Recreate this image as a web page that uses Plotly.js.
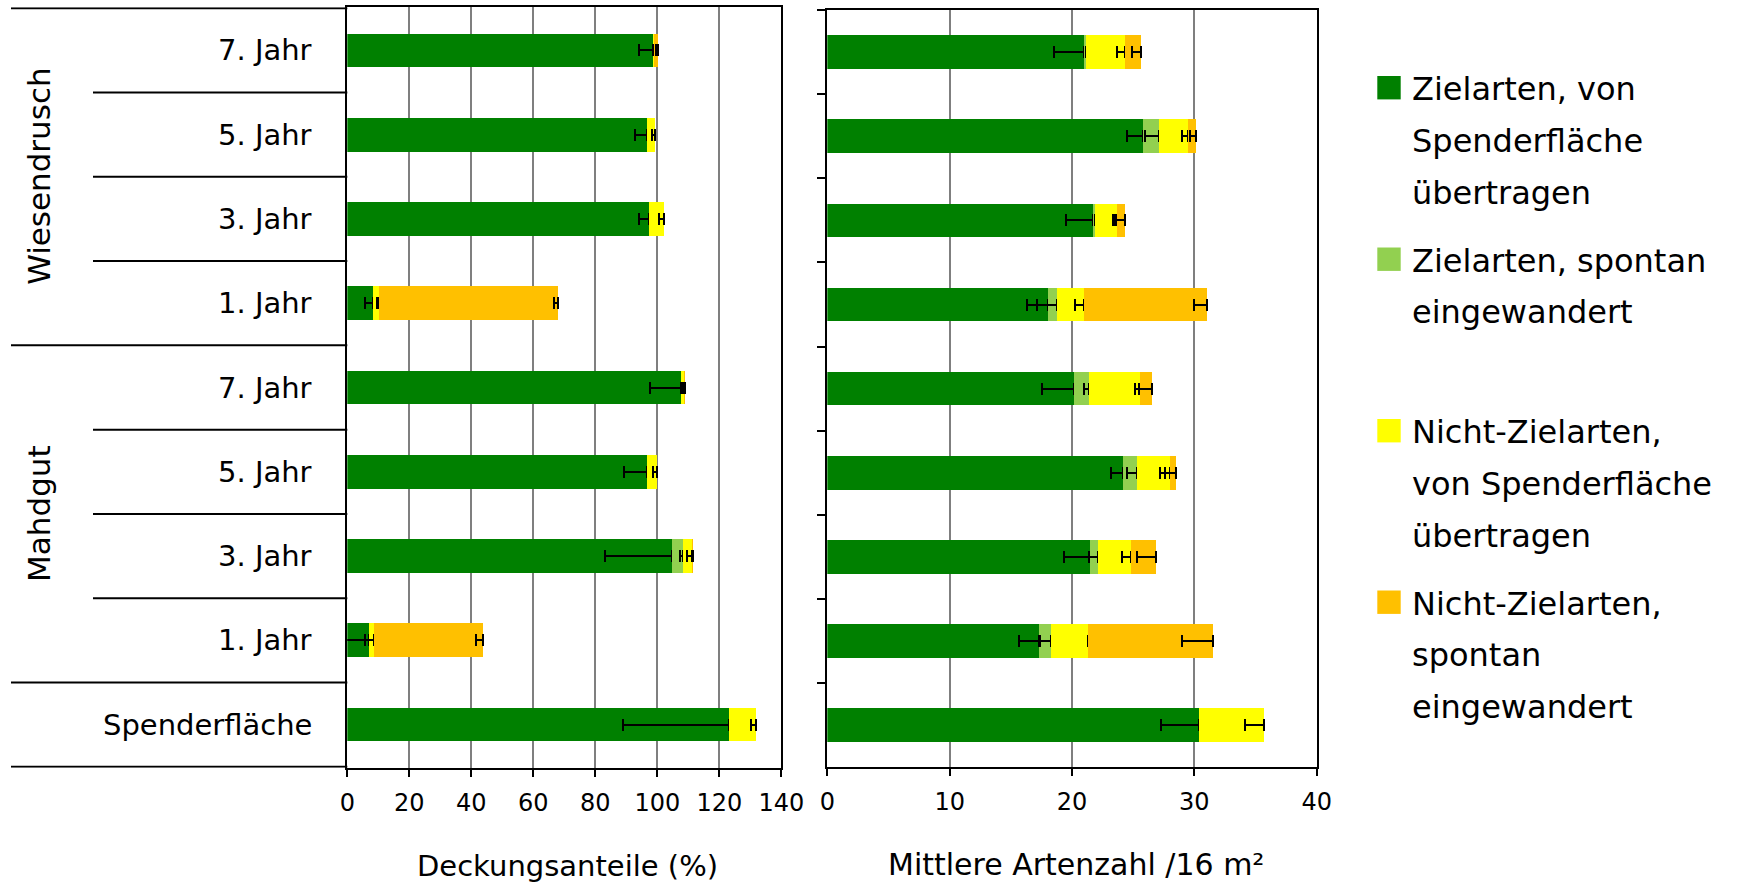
<!DOCTYPE html>
<html>
<head>
<meta charset="utf-8">
<script src="https://cdn.plot.ly/plotly-3.0.1.min.js"></script>
<style>
  html, body { margin: 0; padding: 0; background: #ffffff; }
  #chart { width: 1750px; height: 887px; }
</style>
</head>
<body>
<div id="chart"></div>
<script>
// Rows, top to bottom
const groups = ['Wiesendrusch', 'Wiesendrusch', 'Wiesendrusch', 'Wiesendrusch',
                'Mahdgut', 'Mahdgut', 'Mahdgut', 'Mahdgut', ''];
const years = ['7. Jahr', '5. Jahr', '3. Jahr', '1. Jahr',
               '7. Jahr', '5. Jahr', '3. Jahr', '1. Jahr', 'Spenderfläche'];

const seriesNames = [
  'Zielarten, von<br>Spenderfläche<br>übertragen',
  'Zielarten, spontan<br>eingewandert',
  'Nicht-Zielarten,<br>von Spenderfläche<br>übertragen',
  'Nicht-Zielarten,<br>spontan<br>eingewandert'
];
const seriesColors = ['#008000', '#92D050', '#FFFF00', '#FFC000'];

// Deckungsanteile (%)
const coverTargetTransferred = [98.5, 96.6, 97.2, 8.4, 107.5, 96.8, 104.8, 7.1, 123.0];
const coverTargetSpontaneous = [0, 0, 0, 0, 0, 0, 3.4, 0, 0];
const coverOtherTransferred  = [0.4, 2.7, 4.9, 1.9, 1.0, 3.0, 3.1, 1.4, 8.7];
const coverOtherSpontaneous  = [1.3, 0, 0, 57.6, 0.5, 0, 0.3, 35.4, 0];
const coverErrTargetTransferred = [4.3, 3.8, 3.0, 2.7, 9.9, 7.5, 21.7, 8.0, 34.1];
const coverErrTargetSpontaneous = [null, null, null, null, null, null, 0.9, null, null];
const coverErrOtherTransferred  = [0.3, 0.9, 1.4, 0.8, 0.6, 1.1, 1.6, 2.7, 1.6];
const coverErrOtherSpontaneous  = [0.6, null, null, 1.2, 0.4, null, 0.3, 2.5, null];

// Mittlere Artenzahl / 16 m²
const richTargetTransferred = [21.0, 25.8, 21.7, 18.0, 20.2, 24.15, 21.5, 17.3, 30.35];
const richTargetSpontaneous = [0.15, 1.33, 0.14, 0.8, 1.15, 1.15, 0.65, 0.98, 0];
const richOtherTransferred  = [3.2, 2.34, 1.85, 2.2, 4.2, 2.72, 2.7, 3.05, 5.37];
const richOtherSpontaneous  = [1.3, 0.7, 0.65, 10.0, 1.0, 0.47, 2.0, 10.17, 0];
const richErrTargetTransferred = [2.5, 1.3, 2.2, 1.67, 2.64, 0.95, 2.12, 1.6, 3.05];
const richErrTargetSpontaneous = [null, 1.2, null, 1.7, 0.38, 0.77, 0.77, 0.9, null];
const richErrOtherTransferred  = [0.7, 0.5, 0.2, 0.74, 0.43, 0.82, 0.76, 0.05, 1.55];
const richErrOtherSpontaneous  = [0.75, 0.55, 1.0, 1.04, 1.07, 0.88, 1.52, 2.48, null];

const coverTicks = [0, 20, 40, 60, 80, 100, 120, 140];
const richTicks = [0, 10, 20, 30, 40];
const coverTitle = 'Deckungsanteile (%)';
const richTitle = 'Mittlere Artenzahl /16 m²';

// ---- page geometry (pixels) ----
const W = 1750, H = 887;
const px = v => v / W;
const py = v => 1 - v / H;
const FONT = 'DejaVu Sans';

const rowIds = years.map((y, i) => groups[i] ? groups[i] + ' · ' + y : y);

const coverSeries = [coverTargetTransferred, coverTargetSpontaneous, coverOtherTransferred, coverOtherSpontaneous];
const coverErrors = [coverErrTargetTransferred, coverErrTargetSpontaneous, coverErrOtherTransferred, coverErrOtherSpontaneous];
const richSeries = [richTargetTransferred, richTargetSpontaneous, richOtherTransferred, richOtherSpontaneous];
const richErrors = [richErrTargetTransferred, richErrTargetSpontaneous, richErrOtherTransferred, richErrOtherSpontaneous];

function makeTraces(series, errors, xa, ya) {
  return series.map((vals, s) => ({
    type: 'bar',
    orientation: 'h',
    name: seriesNames[s].replace(/<br>/g, ' '),
    y: rowIds,
    x: vals,
    xaxis: xa,
    yaxis: ya,
    marker: { color: seriesColors[s], line: { width: 0 } },
    error_x: {
      type: 'data',
      symmetric: false,
      array: vals.map(() => 0),
      arrayminus: errors[s].map(e => (e === null ? NaN : e)),
      color: '#000000',
      thickness: 2,
      width: 6
    },
    showlegend: false,
    hoverinfo: 'x+name'
  }));
}

const traces = [
  ...makeTraces(coverSeries, coverErrors, 'x', 'y'),
  ...makeTraces(richSeries, richErrors, 'x2', 'y2')
];

const xAxisBase = {
  showgrid: true, gridcolor: '#7f7f7f', gridwidth: 2,
  showline: true, linecolor: '#000000', linewidth: 2, mirror: true,
  ticks: 'outside', ticklen: 7, tickwidth: 2, tickcolor: '#000000',
  ticklabelstandoff: 5,
  tickfont: { family: FONT, size: 24, color: '#000000' },
  zeroline: false, fixedrange: true
};

const layout = {
  width: W, height: H,
  margin: { l: 0, r: 0, t: 0, b: 0, pad: 0 },
  paper_bgcolor: '#ffffff', plot_bgcolor: '#ffffff',
  barmode: 'stack', bargap: 0.6,
  showlegend: false,
  font: { family: FONT, color: '#000000' },
  xaxis: Object.assign({}, xAxisBase, {
    domain: [px(347.3), px(781.3)], anchor: 'y',
    range: [coverTicks[0], coverTicks[coverTicks.length - 1]],
    tickvals: coverTicks
  }),
  yaxis: {
    domain: [py(767.7), py(7.3)], anchor: 'x',
    type: 'category', categoryorder: 'array', categoryarray: rowIds,
    autorange: 'reversed',
    showline: true, linecolor: '#000000', linewidth: 2, mirror: true,
    showticklabels: false, ticks: '', showgrid: false, zeroline: false, fixedrange: true
  },
  xaxis2: Object.assign({}, xAxisBase, {
    domain: [px(827.3), px(1316.7)], anchor: 'y2',
    range: [richTicks[0], richTicks[richTicks.length - 1]],
    tickvals: richTicks
  }),
  yaxis2: {
    domain: [py(767.3), py(10)], anchor: 'x2',
    type: 'category', categoryorder: 'array', categoryarray: rowIds,
    autorange: 'reversed',
    showline: true, linecolor: '#000000', linewidth: 2, mirror: true,
    showticklabels: false, ticks: 'outside', tickson: 'boundaries',
    ticklen: 8, tickwidth: 2, tickcolor: '#000000',
    showgrid: false, zeroline: false, fixedrange: true
  },
  shapes: [],
  annotations: []
};

// Row labels
years.forEach((label, i) => {
  layout.annotations.push({
    xref: 'paper', yref: 'y', x: px(312), y: i,
    xanchor: 'right', yanchor: 'middle',
    text: label, showarrow: false, borderpad: 0, borderwidth: 0,
    font: { family: FONT, size: 29, color: '#000000' }
  });
});

// Group labels, rotated, centred on their rows
[...new Set(groups.filter(g => g))].forEach(g => {
  const first = groups.indexOf(g), last = groups.lastIndexOf(g);
  layout.annotations.push({
    xref: 'paper', yref: 'y', x: px(39), y: (first + last) / 2,
    xanchor: 'center', yanchor: 'middle', textangle: -90,
    text: g, showarrow: false, borderpad: 0, borderwidth: 0,
    font: { family: FONT, size: 31, color: '#000000' }
  });
});

// Row separators: long lines at group changes and edges, short lines within groups
const sepLine = (yv, long) => ({
  type: 'line', xref: 'paper', yref: 'y',
  x0: px(long ? 11 : 93), x1: px(347.3), y0: yv, y1: yv,
  line: { color: '#000000', width: 2 }, layer: 'above'
});
layout.shapes.push(sepLine(-0.5, true));
for (let i = 0; i < rowIds.length - 1; i++) {
  layout.shapes.push(sepLine(i + 0.5, groups[i] !== groups[i + 1]));
}
layout.shapes.push(sepLine(rowIds.length - 0.5, true));

// Axis titles
layout.annotations.push({
  xref: 'paper', yref: 'paper', x: px(567), y: py(866),
  xanchor: 'center', yanchor: 'middle', text: coverTitle, showarrow: false,
  borderpad: 0, borderwidth: 0, font: { family: FONT, size: 29, color: '#000000' }
});
layout.annotations.push({
  xref: 'paper', yref: 'paper', x: px(1076), y: py(864),
  xanchor: 'center', yanchor: 'middle', text: richTitle, showarrow: false,
  borderpad: 0, borderwidth: 0, font: { family: FONT, size: 30, color: '#000000' }
});

// Legend: evenly spaced entries, one colour key each, wrapped names
const legendPitch = 171.5, legendLine = 51.7, legendTop = 100;
seriesNames.forEach((name, k) => {
  const base = legendTop + k * legendPitch;
  const cy = base - 12.3;
  layout.shapes.push({
    type: 'rect', xref: 'paper', yref: 'paper',
    x0: px(1377.3), x1: px(1400.7), y0: py(cy - 11.7), y1: py(cy + 11.7),
    fillcolor: seriesColors[k], line: { width: 0 }
  });
  name.split('<br>').forEach((line, j) => {
    layout.annotations.push({
      xref: 'paper', yref: 'paper', x: px(1412), y: py(base + j * legendLine - 10.8),
      xanchor: 'left', yanchor: 'middle', text: line, showarrow: false,
      borderpad: 0, borderwidth: 0,
      font: { family: FONT, size: 32, color: '#000000' }
    });
  });
});

Plotly.newPlot('chart', traces, layout, { displayModeBar: false, staticPlot: true });
</script>
</body>
</html>
